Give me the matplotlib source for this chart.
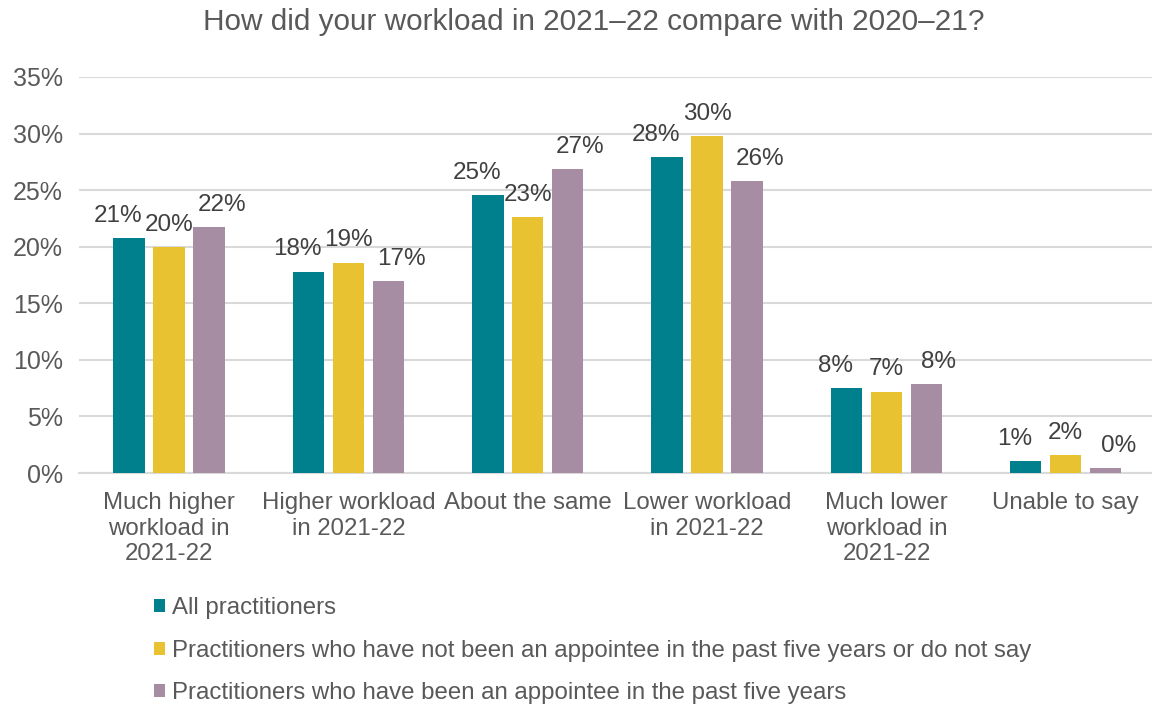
import matplotlib
matplotlib.use("Agg")
import matplotlib.pyplot as plt
import matplotlib.ticker as ticker
from matplotlib.patches import Patch
import numpy as np

plt.rcParams['font.family'] = ['Liberation Sans', 'DejaVu Sans']

categories = ["Much higher\nworkload in\n2021-22", "Higher workload\nin 2021-22", "About the same",
              "Lower workload\nin 2021-22", "Much lower\nworkload in\n2021-22", "Unable to say"]
series = ["All practitioners",
          "Practitioners who have not been an appointee in the past five years or do not say",
          "Practitioners who have been an appointee in the past five years"]
all_pract = [20.8, 17.8, 24.6, 27.9, 7.5, 1.03]
not_appointee = [20.0, 18.6, 22.6, 29.8, 7.2, 1.56]
appointee = [21.7, 17.0, 26.9, 25.8, 7.9, 0.41]
labels_all = ["21%", "18%", "25%", "28%", "8%", "1%"]
labels_not = ["20%", "19%", "23%", "30%", "7%", "2%"]
labels_app = ["22%", "17%", "27%", "26%", "8%", "0%"]

colors = ["#007F8C", "#E9C232", "#A68DA3"]
text_col = "#595959"

fig = plt.figure(figsize=(11.52, 7.06), dpi=100)
ax = fig.add_axes([0.069, 0.33, 0.934, 0.561])

x = np.arange(len(categories))
width = 0.175
step = 0.223
data = [all_pract, not_appointee, appointee]
labs = [labels_all, labels_not, labels_app]
shifts = [-8, 0, 9]  # label offsets in points

for i in range(3):
    bars = ax.bar(x + (i - 1) * step, data[i], width, color=colors[i], zorder=3)
    for b, lab in zip(bars, labs[i]):
        ax.annotate(lab, (b.get_x() + b.get_width() / 2, b.get_height()),
                    xytext=(shifts[i], 8), textcoords="offset points",
                    ha="center", va="bottom", fontsize=17.5, color="#404040")

ax.set_ylim(0, 35)
ax.set_xlim(-0.5, 5.5)
ax.yaxis.set_major_locator(ticker.MultipleLocator(5))
ax.yaxis.set_major_formatter(ticker.FuncFormatter(lambda v, p: f"{int(v)}%"))
ax.set_xticks(x)
ax.set_xticklabels(categories, fontsize=17.3, color=text_col, linespacing=1.2)
ax.tick_params(axis="y", labelsize=18, labelcolor=text_col, length=0, pad=12)
ax.tick_params(axis="x", length=0, pad=14)
ax.grid(axis="y", color="#D9D9D9", linewidth=1.5, zorder=0)
for s in ["top", "right", "left"]:
    ax.spines[s].set_visible(False)
ax.spines["bottom"].set_color("#D9D9D9")
ax.spines["bottom"].set_linewidth(1.5)

fig.text(594 / 1152, 1 - 22 / 706, "How did your workload in 2021\u201322 compare with 2020\u201321?",
         ha="center", va="center", fontsize=21.4, color=text_col)

handles = [Patch(facecolor=c) for c in colors]
leg = fig.legend(handles, series, loc="upper left", frameon=False, fontsize=17.3,
                 handlelength=0.45, handleheight=0.45, handletextpad=0.3,
                 labelspacing=0.86, borderaxespad=0, borderpad=0)
leg.set_bbox_to_anchor((0.134, 1 - 597 / 706), transform=fig.transFigure)
for t in leg.get_texts():
    t.set_color(text_col)

fig.savefig("out.png", dpi=100)
